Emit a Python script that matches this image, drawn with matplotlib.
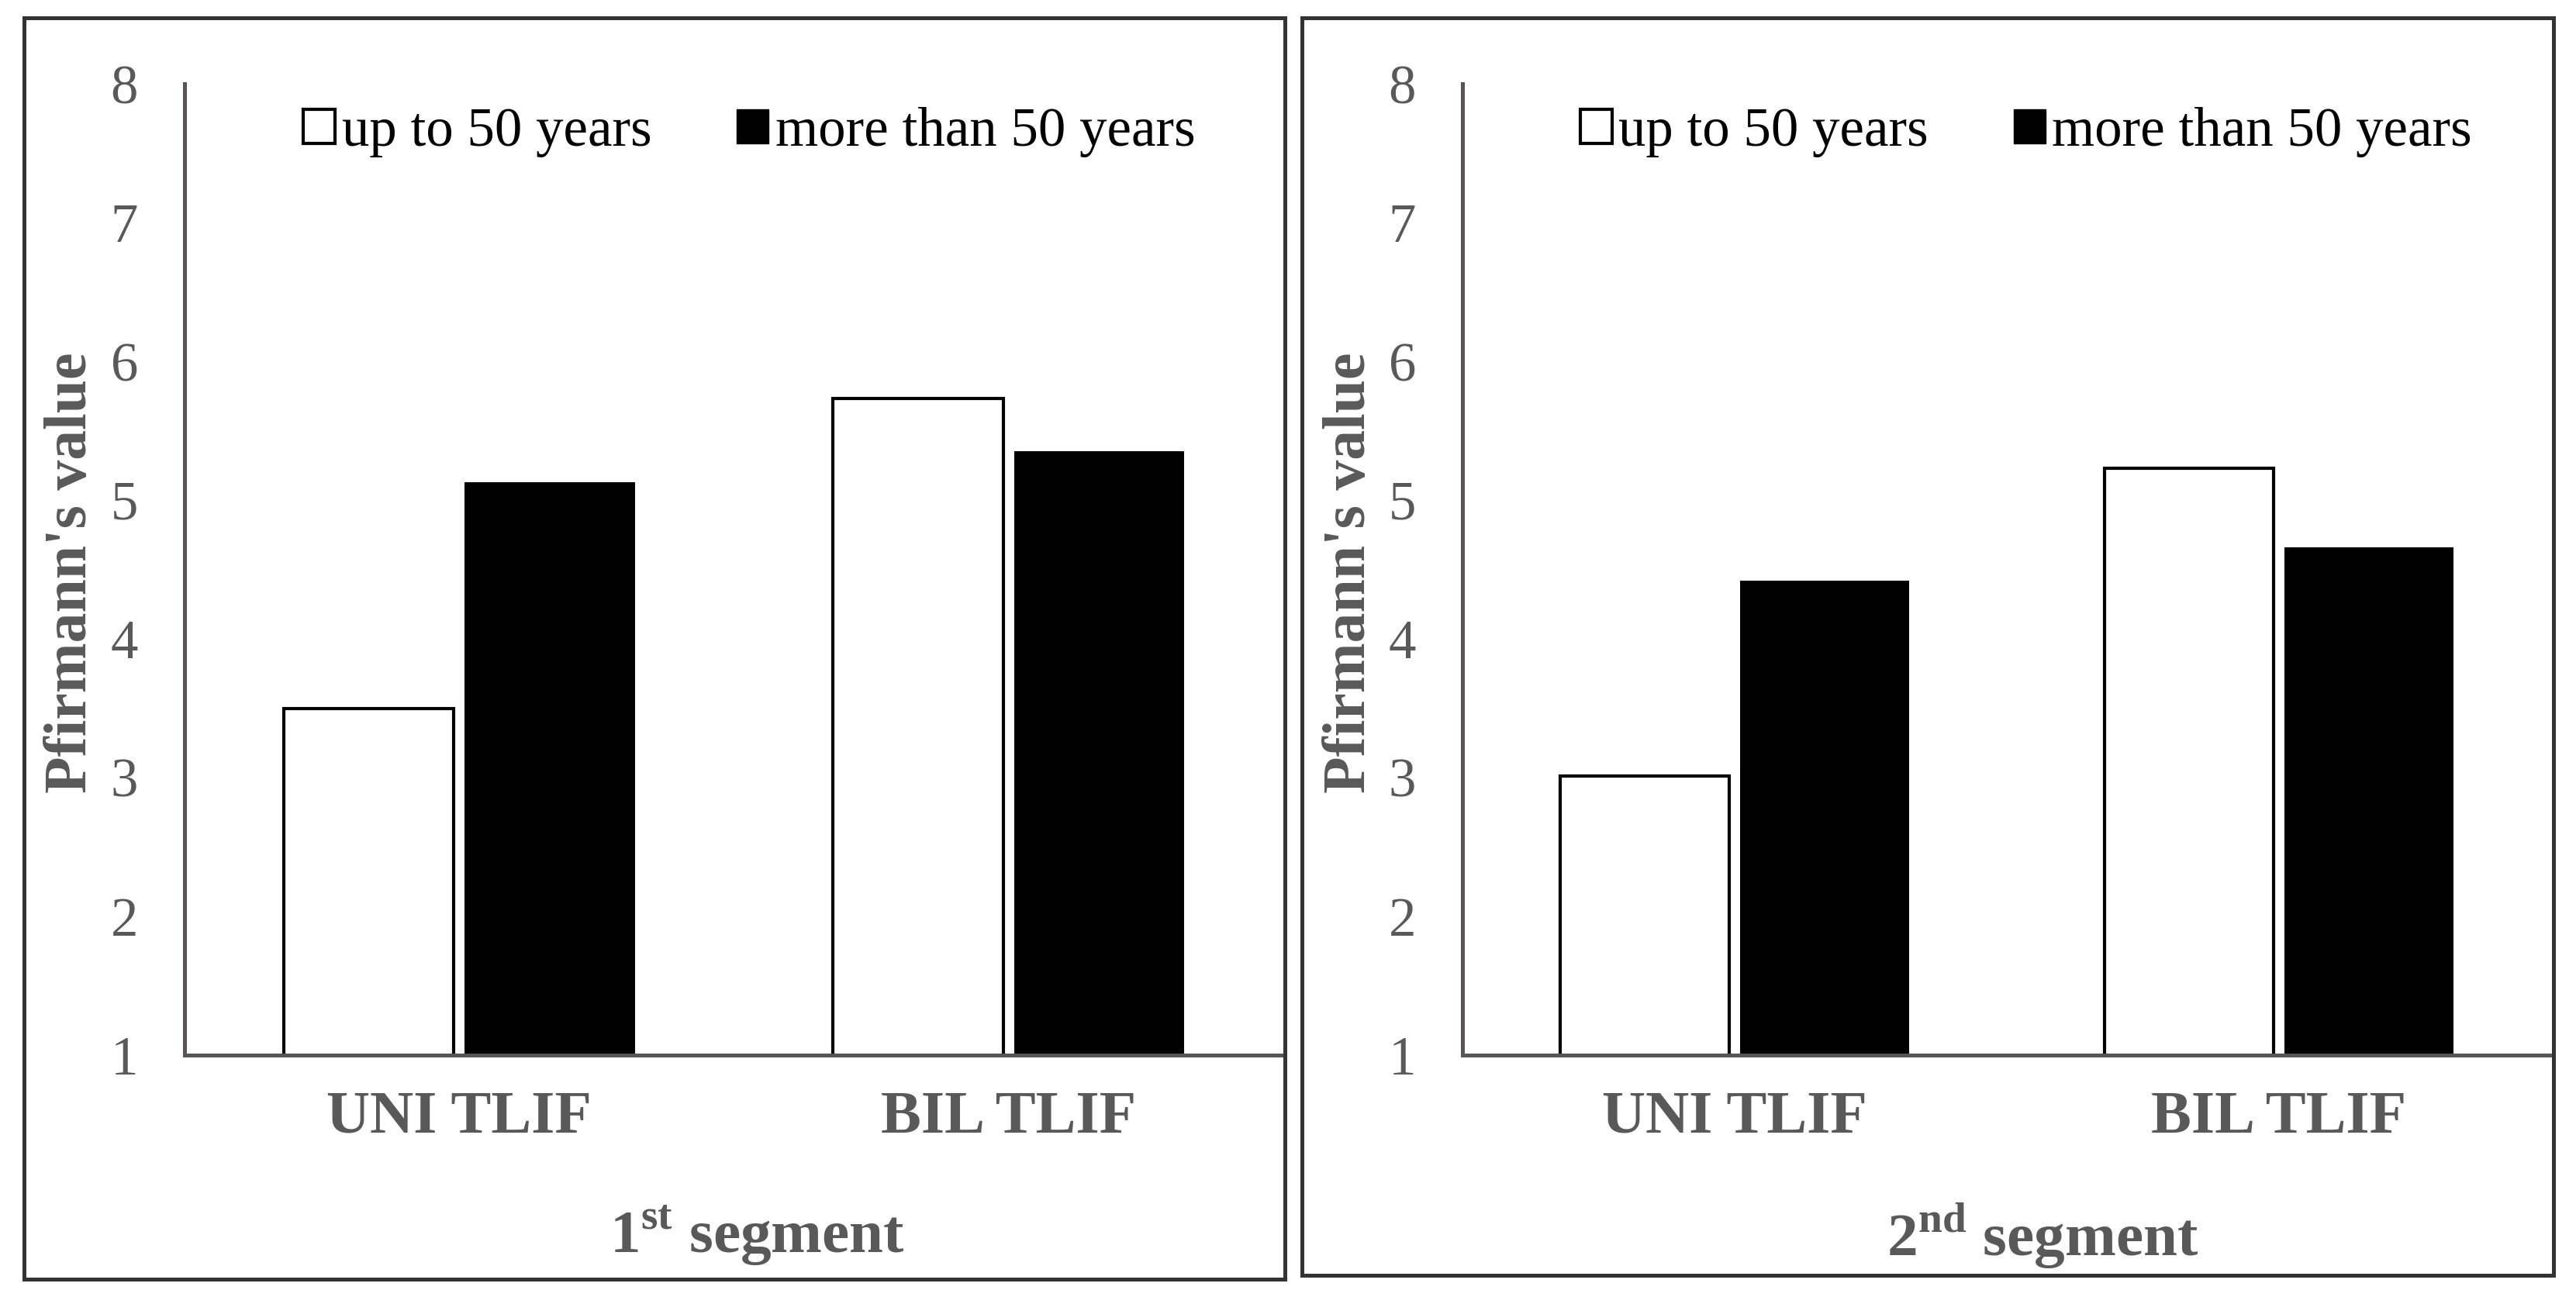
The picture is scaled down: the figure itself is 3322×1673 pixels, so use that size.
"""
Pfirmann's value by age group, 1st and 2nd segment
"""
import matplotlib
matplotlib.use('Agg')
import matplotlib.pyplot as plt
from matplotlib.patches import Rectangle, Patch

# Du lieu doc tu hinh
categories = ['UNI TLIF', 'BIL TLIF']
series_names = ['up to 50 years', 'more than 50 years']
seg1_young = [3.50, 5.73]
seg1_old = [5.13, 5.35]
seg2_young = [3.01, 5.23]
seg2_old = [4.42, 4.66]
yticks = [1, 2, 3, 4, 5, 6, 7, 8]
segment_titles = [r'1$^{\mathbf{st}}$ segment', r'2$^{\mathbf{nd}}$ segment']

plt.rcParams['font.family'] = ['Liberation Serif', 'DejaVu Serif']
plt.rcParams['mathtext.fontset'] = 'custom'
plt.rcParams['mathtext.rm'] = 'Liberation Serif'
plt.rcParams['mathtext.bf'] = 'Liberation Serif:bold'

GRAY = '#595959'
AXIS = '#5a5555'

W, H = 3323, 1673
fig = plt.figure(figsize=(W / 100, H / 100), dpi=100)


def px_axes(x0, x1, y_top, y_bot):
    return [x0 / W, (H - y_bot) / H, (x1 - x0) / W, (y_bot - y_top) / H]


def draw_panel(rect, young, old, title, title_x):
    ax = fig.add_axes(rect)
    x = range(len(categories))
    width = 0.31
    off = 0.165
    ax.bar([i - off for i in x], young, width, color='white',
           edgecolor='black', linewidth=3, zorder=2)
    ax.bar([i + off for i in x], old, width, color='black',
           edgecolor='black', linewidth=0, zorder=2)

    ax.set_xlim(-0.5, len(categories) - 0.5)
    ax.set_ylim(1, 8)
    ax.set_yticks(yticks)
    ax.set_xticks(list(x))
    ax.set_xticklabels(categories, fontsize=56, fontweight='bold', color=GRAY)
    ax.tick_params(axis='x', length=0, pad=33)
    ax.tick_params(axis='y', length=0, pad=56, labelsize=51, labelcolor=GRAY)
    for lab in ax.get_yticklabels():
        lab.set_horizontalalignment('center')

    for s in ['top', 'right']:
        ax.spines[s].set_visible(False)
    for s in ['left', 'bottom']:
        ax.spines[s].set_color(AXIS)
        ax.spines[s].set_linewidth(3.6)

    ax.set_ylabel("Pfirmann's value", fontsize=56, fontweight='bold', color=GRAY)
    ax.yaxis.set_label_coords(-0.103, 0.497)
    ax.yaxis.label.set_va('center')

    ax.text(title_x, -0.186, title, transform=ax.transAxes, ha='center',
            va='center', fontsize=57, fontweight='bold', color=GRAY)

    handles = [Patch(facecolor='white', edgecolor='black', linewidth=3),
               Patch(facecolor='black', edgecolor='black')]
    ax.legend(handles, series_names, loc='center left',
              bbox_to_anchor=(0.108, 0.95), ncol=2, frameon=False,
              fontsize=51, handlelength=0.58, handleheight=0.58,
              handletextpad=0.12, columnspacing=1.55, borderpad=0,
              borderaxespad=0)
    return ax


draw_panel(px_axes(238, 1655, 108, 1361), seg1_young, seg1_old,
           segment_titles[0], 0.521)
draw_panel(px_axes(1886, 3290, 108, 1361), seg2_young, seg2_old,
           segment_titles[1], 0.533)

# Khung vien cho moi bieu do
for (x0, x1, y0, y1) in [(31, 1657, 23, 1650), (1679, 3293, 23, 1645)]:
    fig.patches.append(Rectangle((x0 / W, (H - y1) / H), (x1 - x0) / W,
                                 (y1 - y0) / H, transform=fig.transFigure,
                                 fill=False, edgecolor='#333333',
                                 linewidth=3.6, zorder=5))

fig.savefig('out.png', dpi=100, facecolor='white')
plt.close(fig)
